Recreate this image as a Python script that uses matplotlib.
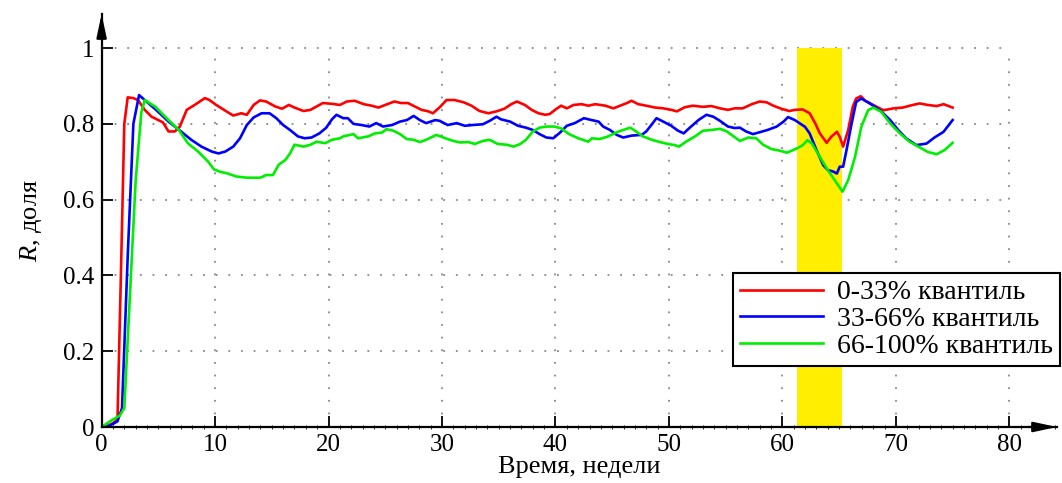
import matplotlib
matplotlib.use("Agg")
import matplotlib.pyplot as plt
from matplotlib.ticker import MultipleLocator

plt.rcParams['font.family'] = ['Liberation Serif', 'DejaVu Serif']
plt.rcParams['mathtext.fontset'] = 'custom'
plt.rcParams['mathtext.it'] = 'Liberation Serif:italic'
plt.rcParams['mathtext.rm'] = 'Liberation Serif'

# ---- data ----
red_weeks = [0, 0.5, 1.0, 1.4, 1.7, 2.0, 2.3, 2.8, 3.2, 3.8, 4.4, 5.0, 5.4, 5.9, 6.46, 6.9, 7.2, 7.5, 8.2, 9.1,
             9.5, 10.1, 11.0, 11.6, 12.3, 12.8, 13.4, 13.96, 14.5, 15.3, 15.9, 16.5, 17.0, 17.8, 18.4, 18.95, 19.5,
             20.3, 21.0, 21.6, 22.3, 23.1, 23.8, 24.4, 25.0, 25.8, 26.4, 27.0, 27.6, 28.2, 28.8, 29.2, 29.8, 30.4,
             31.1, 31.9, 32.6, 33.3, 34.1, 34.8, 35.5, 36.1, 36.6, 37.3, 37.9, 38.5, 39.1, 39.5, 40.0, 40.5, 41.0,
             41.6, 42.3, 42.9, 43.5, 44.4, 45.1, 45.7, 46.3, 46.7, 47.3, 48.0, 48.8, 49.5, 50.2, 50.7, 51.4, 52.1,
             53.0, 53.75, 54.5, 55.2, 55.8, 56.5, 57.3, 58.0, 58.6, 59.2, 59.9, 60.6, 61.1, 61.8, 62.4, 62.9, 63.3,
             63.9, 64.3, 64.8, 65.05, 65.35, 65.8, 66.2, 66.5, 66.9, 67.3, 68.0, 68.9, 69.8, 70.6, 71.5, 72.1, 72.8,
             73.6, 74.2, 75.0]
red_values = [0, 0.003, 0.01, 0.02, 0.40, 0.80, 0.870, 0.868, 0.863, 0.837, 0.819, 0.810, 0.804, 0.780, 0.780,
              0.793, 0.815, 0.837, 0.850, 0.868, 0.863, 0.850, 0.833, 0.822, 0.828, 0.824, 0.850, 0.862, 0.859,
              0.846, 0.840, 0.850, 0.843, 0.834, 0.837, 0.846, 0.855, 0.853, 0.850, 0.859, 0.861, 0.852, 0.848,
              0.843, 0.850, 0.859, 0.855, 0.855, 0.846, 0.837, 0.833, 0.828, 0.844, 0.863, 0.863, 0.857, 0.848,
              0.834, 0.828, 0.833, 0.840, 0.852, 0.859, 0.850, 0.837, 0.828, 0.824, 0.826, 0.838, 0.848, 0.841,
              0.850, 0.852, 0.848, 0.852, 0.848, 0.841, 0.848, 0.855, 0.861, 0.852, 0.848, 0.843, 0.841, 0.837,
              0.833, 0.844, 0.848, 0.845, 0.847, 0.841, 0.837, 0.841, 0.841, 0.852, 0.859, 0.857, 0.848, 0.840,
              0.834, 0.837, 0.838, 0.828, 0.801, 0.775, 0.750, 0.766, 0.779, 0.766, 0.740, 0.784, 0.845, 0.867,
              0.873, 0.861, 0.850, 0.836, 0.841, 0.843, 0.850, 0.854, 0.850, 0.847, 0.852, 0.843]

blue_weeks = [0, 0.7, 1.4, 1.8, 2.3, 2.8, 3.3, 3.8, 4.8, 5.9, 7.0, 7.9, 8.8, 9.7, 10.3, 10.9, 11.6, 12.2, 12.8,
              13.4, 14.1, 14.8, 15.4, 16.0, 16.6, 17.3, 17.9, 18.5, 19.2, 19.8, 20.3, 20.7, 21.3, 21.7, 22.2, 22.9,
              23.6, 24.2, 24.8, 25.6, 26.3, 26.9, 27.5, 28.05, 28.6, 29.4, 29.8, 30.5, 31.3, 32.0, 32.7, 33.6, 34.2,
              34.8, 35.2, 36.0, 36.7, 37.4, 38.0, 38.6, 39.2, 39.8, 40.4, 41.0, 41.7, 42.5, 43.2, 43.8, 44.2, 44.8,
              45.4, 45.97, 46.7, 47.6, 48.0, 48.5, 48.9, 49.5, 50.2, 50.8, 51.3, 51.8, 52.6, 53.3, 53.9, 54.5, 55.2,
              55.8, 56.25, 56.8, 57.4, 58.0, 58.7, 59.5, 60.1, 60.5, 61.1, 61.5, 62.0, 62.4, 63.0, 63.6, 64.0, 64.5,
              64.8, 65.05, 65.35, 65.65, 66.1, 66.5, 66.95, 67.7, 68.6, 69.5, 70.2, 70.9, 71.8, 72.7, 73.4, 74.2,
              75.0]
blue_values = [0, 0.003, 0.015, 0.05, 0.45, 0.80, 0.876, 0.863, 0.837, 0.806, 0.780, 0.758, 0.740, 0.727, 0.722,
               0.727, 0.740, 0.762, 0.797, 0.817, 0.828, 0.828, 0.815, 0.797, 0.784, 0.767, 0.762, 0.764, 0.775,
               0.790, 0.812, 0.824, 0.815, 0.815, 0.800, 0.797, 0.793, 0.802, 0.793, 0.797, 0.806, 0.810, 0.821,
               0.810, 0.802, 0.810, 0.808, 0.797, 0.802, 0.795, 0.797, 0.799, 0.808, 0.819, 0.812, 0.806, 0.795,
               0.790, 0.784, 0.773, 0.764, 0.762, 0.777, 0.795, 0.802, 0.815, 0.810, 0.806, 0.793, 0.784, 0.771,
               0.764, 0.769, 0.771, 0.780, 0.799, 0.815, 0.806, 0.795, 0.782, 0.775, 0.789, 0.810, 0.824, 0.819,
               0.808, 0.793, 0.789, 0.790, 0.780, 0.773, 0.778, 0.784, 0.793, 0.806, 0.818, 0.810, 0.802, 0.792,
               0.775, 0.731, 0.691, 0.678, 0.674, 0.669, 0.687, 0.687, 0.731, 0.801, 0.858, 0.867, 0.854, 0.836,
               0.810, 0.784, 0.762, 0.744, 0.748, 0.764, 0.779, 0.810]

green_weeks = [0, 0.5, 1.0, 1.6, 2.0, 2.5, 3.0, 3.5, 3.8, 4.7, 5.9, 6.8, 7.6, 8.5, 9.4, 9.9, 10.5, 11.0, 11.9,
               12.8, 14.0, 14.5, 15.1, 15.6, 16.2, 16.6, 17.0, 17.8, 18.4, 18.95, 19.7, 20.3, 21.0, 21.3, 22.2, 22.6,
               23.5, 24.1, 24.7, 25.1, 25.7, 26.3, 26.9, 27.5, 28.05, 28.6, 29.5, 30.3, 31.0, 31.6, 32.3, 32.9, 33.6,
               34.2, 34.9, 35.7, 36.3, 36.9, 37.4, 38.0, 38.6, 39.2, 39.9, 40.5, 41.2, 42.0, 42.9, 43.2, 43.9, 44.65,
               45.4, 45.97, 46.6, 47.1, 47.7, 48.5, 49.2, 49.9, 50.5, 50.9, 51.5, 52.3, 53.0, 53.75, 54.5, 55.1,
               55.7, 56.25, 57.0, 57.7, 58.3, 59.0, 59.8, 60.4, 60.95, 61.4, 61.8, 62.2, 62.6, 63.3, 64.0, 64.8,
               65.3, 65.8, 66.4, 66.95, 67.55, 68.0, 68.7, 69.5, 70.35, 71.2, 72.1, 72.8, 73.6, 74.3, 75.0]
green_values = [0, 0.01, 0.02, 0.03, 0.05, 0.35, 0.65, 0.83, 0.863, 0.846, 0.810, 0.784, 0.749, 0.727, 0.700,
                0.680, 0.673, 0.670, 0.661, 0.658, 0.658, 0.665, 0.665, 0.692, 0.705, 0.722, 0.745, 0.740, 0.745,
                0.753, 0.749, 0.758, 0.762, 0.767, 0.773, 0.762, 0.767, 0.775, 0.777, 0.786, 0.782, 0.773, 0.760,
                0.758, 0.752, 0.758, 0.771, 0.762, 0.755, 0.751, 0.752, 0.747, 0.755, 0.758, 0.747, 0.745, 0.740,
                0.747, 0.758, 0.780, 0.790, 0.793, 0.793, 0.788, 0.773, 0.762, 0.753, 0.762, 0.760, 0.767, 0.778,
                0.784, 0.790, 0.780, 0.767, 0.758, 0.752, 0.747, 0.744, 0.740, 0.753, 0.767, 0.782, 0.784, 0.787,
                0.780, 0.767, 0.755, 0.764, 0.762, 0.745, 0.734, 0.729, 0.724, 0.731, 0.737, 0.744, 0.757, 0.748,
                0.713, 0.678, 0.643, 0.621, 0.652, 0.713, 0.792, 0.836, 0.843, 0.832, 0.801, 0.775, 0.753, 0.738,
                0.726, 0.720, 0.731, 0.750]

series_labels = ['0-33% квантиль', '33-66% квантиль', '66-100% квантиль']
band_start, band_end = 61.3, 65.25
x_ticks = [0, 10, 20, 30, 40, 50, 60, 70, 80]
y_ticks = [0, 0.2, 0.4, 0.6, 0.8, 1.0]
y_ticklabels = ['0', '0.2', '0.4', '0.6', '0.8', '1']

# ---- figure ----
fig = plt.figure(figsize=(10.62, 4.83), dpi=100)
ax = fig.add_axes([101.6 / 1062, 56 / 483, 955.4 / 1062, 413 / 483])
ax.set_xlim(0, 84.2)
ax.set_ylim(0, 1.09)

# grid (limited to data range)
grid_kw = dict(color='#888888', linestyle=(0, (1, 6)), linewidth=1.3, zorder=1)
ax.hlines(y_ticks[1:], x_ticks[0], x_ticks[-1], **grid_kw)
ax.vlines(x_ticks[1:], y_ticks[0], y_ticks[-1], **grid_kw)

# highlighted band
ax.fill_betweenx([y_ticks[0], y_ticks[-1]], band_start, band_end, color='#FFEE00', linewidth=0, zorder=2)

ax.plot(red_weeks, red_values, color='#FF0000', lw=1.9, label=series_labels[0], zorder=3)
ax.plot(blue_weeks, blue_values, color='#0000FF', lw=1.9, label=series_labels[1], zorder=3)
ax.plot(green_weeks, green_values, color='#00EE00', lw=1.9, label=series_labels[2], zorder=3)

# spines
for s in ['top', 'right']:
    ax.spines[s].set_visible(False)
for s in ['left', 'bottom']:
    ax.spines[s].set_linewidth(1.6)
    ax.spines[s].set_zorder(4)

ax.annotate('', xy=(1.0, 0), xytext=(0.97, 0), xycoords='axes fraction',
            arrowprops=dict(arrowstyle='-|>,head_length=1.4,head_width=0.3', color='k', lw=1.6,
                            shrinkA=0, shrinkB=0), annotation_clip=False)
ax.annotate('', xy=(0, 1.0), xytext=(0, 0.95), xycoords='axes fraction',
            arrowprops=dict(arrowstyle='-|>,head_length=1.4,head_width=0.3', color='k', lw=1.6,
                            shrinkA=0, shrinkB=0), annotation_clip=False)

ax.set_xticks(x_ticks)
ax.set_yticks(y_ticks)
ax.set_yticklabels(y_ticklabels)
ax.xaxis.set_minor_locator(MultipleLocator(1))
ax.tick_params(axis='both', which='major', direction='in', length=8, width=1.3, labelsize=18, pad=5)
ax.tick_params(axis='x', which='minor', direction='inout', length=3, width=0.6)
ax.tick_params(axis='y', which='minor', left=False)

ax.set_xlabel('Время, недели', fontsize=19, labelpad=0)
ax.set_ylabel('$R$, доля', fontsize=19, labelpad=14)

leg = ax.legend(loc='upper right', bbox_to_anchor=(1.003, 0.373), borderaxespad=0, fontsize=20,
                frameon=True, fancybox=False, edgecolor='black', framealpha=1,
                handlelength=3.0, handletextpad=0.5, labelspacing=0.05, borderpad=0.25)
leg.get_frame().set_linewidth(1.5)
leg.set_zorder(5)

fig.savefig('out.png', dpi=100)
